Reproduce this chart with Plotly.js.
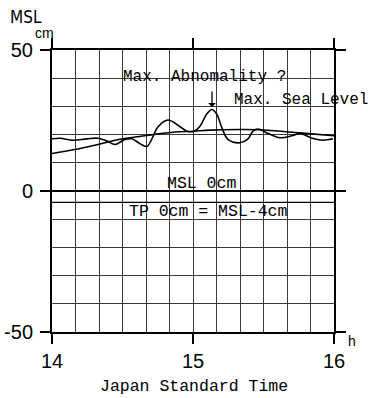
<!DOCTYPE html>
<html>
<head>
<meta charset="utf-8">
<script src="https://cdn.plot.ly/plotly-3.0.1.min.js"></script>
<style>html,body{margin:0;padding:0;background:#fff;}#chart{width:368px;height:398px;}</style>
</head>
<body>
<div id="chart"></div>
<script>
// Observed sea level (hours JST, cm above MSL)
const obsTime = [14.000, 14.057, 14.150, 14.248, 14.327, 14.390, 14.447, 14.518, 14.567, 14.623, 14.673, 14.717, 14.752, 14.823, 14.908, 14.957, 15.007, 15.050, 15.100, 15.135, 15.170, 15.205, 15.248, 15.333, 15.390, 15.425, 15.462, 15.525, 15.617, 15.708, 15.758, 15.852, 15.922, 15.993];
const obsLevel = [18.5, 18.7, 18.0, 18.5, 18.7, 17.7, 16.5, 18.3, 18.5, 16.8, 15.8, 19.4, 22.8, 25.2, 22.8, 21.2, 21.2, 23.0, 27.5, 28.9, 27.1, 22.4, 18.3, 17.1, 18.5, 21.2, 22.0, 20.6, 18.9, 19.7, 20.4, 18.6, 18.0, 18.5];
// Smooth (predicted) tide curve
const predTime = [14.000, 14.162, 14.327, 14.503, 14.673, 14.873, 15.000, 15.120, 15.333, 15.467, 15.758, 16.000];
const predLevel = [13.3, 14.7, 16.5, 18.5, 19.7, 20.9, 21.2, 21.6, 21.8, 21.7, 20.6, 19.6];
const tpOffset = -4;
// Tick labels
const xTickVals = [14, 15, 16];
const xTickText = ['14', '15', '16'];
const yTickVals = [-50, 0, 50];
const yTickText = ['-50', '0', '50'];

const mono = 'Liberation Mono, DejaVu Sans Mono, monospace';
const sans = 'Liberation Sans, Arial, sans-serif';

const traces = [
  {x: predTime, y: predLevel, type: 'scatter', mode: 'lines', line: {color: '#000', width: 1.6, shape: 'spline', smoothing: 1}, hoverinfo: 'skip'},
  {x: obsTime, y: obsLevel, type: 'scatter', mode: 'lines', line: {color: '#000', width: 1.6, shape: 'spline', smoothing: 1}, hoverinfo: 'skip'}
];

const gridCol = '#3a3a3a';
const layout = {
  width: 368, height: 398,
  margin: {l: 52, r: 34, t: 50, b: 66},
  paper_bgcolor: '#fff', plot_bgcolor: '#fff',
  showlegend: false,
  xaxis: {
    range: [14, 16], tickmode: 'array', tickvals: xTickVals, ticktext: xTickText,
    ticks: 'outside', ticklen: 10, tickwidth: 1.5, tickcolor: '#000',
    showline: true, linewidth: 2, linecolor: '#000', mirror: 'ticks',
    showgrid: true, gridcolor: gridCol, gridwidth: 1, zeroline: false,
    minor: {tickmode: 'linear', tick0: 14, dtick: 1/6, showgrid: true, gridcolor: gridCol, gridwidth: 1},
    tickfont: {family: sans, size: 20, color: '#000'},
    ticklabelstandoff: 0
  },
  yaxis: {
    range: [-50, 50], tickmode: 'array', tickvals: yTickVals, ticktext: yTickText,
    ticks: 'outside', ticklen: 10, tickwidth: 1.5, tickcolor: '#000',
    showline: true, linewidth: 2, linecolor: '#000', mirror: 'ticks',
    showgrid: true, gridcolor: gridCol, gridwidth: 1,
    zeroline: true, zerolinecolor: '#000', zerolinewidth: 1.5,
    minor: {tickmode: 'linear', tick0: -50, dtick: 10, showgrid: true, gridcolor: gridCol, gridwidth: 1},
    tickfont: {family: sans, size: 20, color: '#000'},
    ticklabelstandoff: 3
  },
  shapes: [
    {type: 'line', xref: 'x', yref: 'y', x0: 14, x1: 16, y0: tpOffset, y1: tpOffset, line: {color: '#000', width: 1.3}}
  ],
  annotations: [
    {xref: 'paper', yref: 'paper', x: -0.092, y: 1.117, text: 'MSL', showarrow: false, font: {family: 'Liberation Sans Narrow, DejaVu Sans Condensed, ' + sans, size: 17, color: '#000'}, xanchor: 'center', yanchor: 'middle'},
    {xref: 'paper', yref: 'paper', x: -0.028, y: 1.060, text: 'cm', showarrow: false, font: {family: sans, size: 14, color: '#000'}, xanchor: 'center', yanchor: 'middle'},
    {xref: 'paper', yref: 'paper', x: 1.064, y: -0.032, text: 'h', showarrow: false, font: {family: sans, size: 14, color: '#000'}, xanchor: 'center', yanchor: 'middle'},
    {xref: 'paper', yref: 'paper', x: 0.5035, y: -0.1915, text: 'Japan Standard Time', showarrow: false, font: {family: mono, size: 16.5, color: '#000'}, xanchor: 'center', yanchor: 'middle'},
    {xref: 'x', yref: 'y', x: 15.085, y: 40.6, text: 'Max. Abnomality ?', showarrow: false, font: {family: mono, size: 16, color: '#000'}, xanchor: 'center', yanchor: 'middle'},
    {xref: 'x', yref: 'y', x: 15.277, y: 32.4, text: 'Max. Sea Level', showarrow: false, font: {family: mono, size: 16, color: '#000'}, xanchor: 'left', yanchor: 'middle'},
    {xref: 'x', yref: 'y', x: 15.135, y: 29.8, text: '', showarrow: true, ax: 0, ay: -17, arrowhead: 1, arrowsize: 1, arrowwidth: 1.3, arrowcolor: '#000', standoff: 0},
    {xref: 'x', yref: 'y', x: 15.06, y: 2.7, text: 'MSL 0cm', showarrow: false, font: {family: mono, size: 16.5, color: '#000'}, xanchor: 'center', yanchor: 'middle'},
    {xref: 'x', yref: 'y', x: 15.113, y: -7.3, text: 'TP 0cm = MSL-4cm', showarrow: false, font: {family: mono, size: 16.5, color: '#000'}, xanchor: 'center', yanchor: 'middle'}
  ]
};

Plotly.newPlot('chart', traces, layout, {displayModeBar: false, staticPlot: true});
</script>
</body>
</html>
